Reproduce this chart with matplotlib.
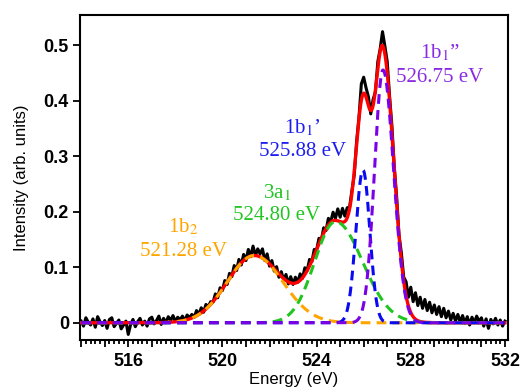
import numpy as np
import matplotlib
matplotlib.use("Agg")
import matplotlib.pyplot as plt
from matplotlib.ticker import MultipleLocator, FuncFormatter

energy = np.round(np.arange(514.0, 532.05, 0.1), 1)
intensity = [
    0.003, -0.006, 0.009, 0.001, -0.004, 0.007, -0.008, 0.011, 0.002, -0.005,
    0.004, -0.010, 0.006, 0.009, -0.007, -0.001, 0.005, -0.011, -0.004, 0.003,
    -0.021, -0.003, 0.006, -0.007, 0.002, 0.008, -0.004, 0.003, -0.006, 0.007,
    0.010, -0.002, 0.004, 0.012, -0.003, 0.008, 0.000, 0.011, 0.004, 0.013,
    0.002, 0.010, 0.005, 0.012, 0.004, 0.014, 0.009, 0.015, 0.010, 0.022,
    0.015, 0.027, 0.019, 0.033, 0.029, 0.038, 0.037, 0.052, 0.045, 0.063,
    0.058, 0.076, 0.069, 0.089, 0.083, 0.103, 0.094, 0.114, 0.104, 0.123,
    0.112, 0.132, 0.119, 0.138, 0.121, 0.133, 0.124, 0.133, 0.112, 0.124,
    0.102, 0.112, 0.093, 0.101, 0.082, 0.092, 0.077, 0.087, 0.070, 0.083,
    0.069, 0.082, 0.073, 0.088, 0.080, 0.099, 0.094, 0.114, 0.110, 0.132,
    0.131, 0.152, 0.148, 0.171, 0.166, 0.188, 0.182, 0.199, 0.188, 0.205,
    0.190, 0.206, 0.192, 0.207, 0.208, 0.238, 0.266, 0.327, 0.370, 0.430,
    0.442, 0.423, 0.407, 0.376, 0.402, 0.416, 0.470, 0.493, 0.524, 0.498,
    0.470, 0.408, 0.354, 0.280, 0.227, 0.158, 0.126, 0.082, 0.074, 0.046,
    0.064, 0.038, 0.054, 0.031, 0.046, 0.026, 0.042, 0.022, 0.037, 0.018,
    0.032, 0.015, 0.029, 0.011, 0.026, 0.009, 0.021, 0.005, 0.017, 0.003,
    0.015, 0.001, 0.013, -0.001, 0.011, -0.004, 0.010, 0.000, 0.012, 0.002,
    0.009, -0.006, 0.007, -0.010, 0.006, -0.002, 0.008, -0.004, 0.005, -0.006,
    0.003,
]

# ---- fitted peaks (centre, height, left / right widths)
peak_names = ["1b$_2$", "3a$_1$", "1b$_1$\u2019", "1b$_1$\u201d"]
peak_energies = ["521.28 eV", "524.80 eV", "525.88 eV", "526.75 eV"]
centers = [521.35, 524.80, 525.97, 526.82]
heights = [0.121, 0.182, 0.275, 0.455]
sig_left = [1.15, 0.88, 0.30, 0.36]
sig_right = [1.22, 1.15, 0.29, 0.45]
colors = ["#FFA500", "#22C422", "#0A0AF0", "#7A00E6"]
text_colors = ["#FFA500", "#22C422", "#1E1EF0", "#8A2BE2"]

ytick_vals = [0, 0.1, 0.2, 0.3, 0.4, 0.5]
ytick_labels = ["0", "0.1", "0.2", "0.3", "0.4", "0.5"]

plt.rcParams["lines.scale_dashes"] = False
plt.rcParams["mathtext.fontset"] = "stix"

xf = np.linspace(514.0, 532.0, 1801)
comps = []
for c, h, sl, sr in zip(centers, heights, sig_left, sig_right):
    s = np.where(xf < c, sl, sr)
    comps.append(h * np.exp(-(xf - c) ** 2 / (2 * s ** 2)))
total = np.sum(comps, axis=0)

fig = plt.figure(figsize=(5.29, 3.91), dpi=100)
ax = fig.add_axes([80 / 529, 1 - 340 / 391, 428 / 529, 325 / 391])

ax.plot(energy, intensity, color="black", lw=2.2, zorder=2)
ax.plot(xf, total, color="red", lw=2.4, zorder=3)
for comp, col in zip(comps, colors):
    ax.plot(xf, comp, color=col, lw=2.2, dashes=(7, 4.5), zorder=4)

ax.set_xlim(513.95, 532.13)
ax.set_ylim(-0.031, 0.554)

ax.xaxis.set_major_locator(MultipleLocator(1))
ax.xaxis.set_minor_locator(MultipleLocator(0.2))
ax.xaxis.set_major_formatter(FuncFormatter(
    lambda v, p: "%d" % round(v) if round(v) % 4 == 0 else ""))
ax.set_yticks(ytick_vals)
ax.set_yticklabels(ytick_labels)

for sp in ax.spines.values():
    sp.set_linewidth(1.5)
ax.tick_params(axis="both", which="both", direction="out", width=1.3, top=False, right=False)
ax.tick_params(axis="x", which="major", length=5, pad=4)
ax.tick_params(axis="x", which="minor", length=3)
ax.tick_params(axis="y", which="major", length=5, pad=3)
for lab in ax.get_xticklabels() + ax.get_yticklabels():
    lab.set_fontfamily("Liberation Sans")
    lab.set_fontweight("bold")
    lab.set_fontsize(13)

ax.set_xlabel("Energy (eV)", fontsize=12, family="Liberation Sans")
ax.set_ylabel("Intensity (arb. units)", fontsize=12, family="Liberation Sans")
ax.xaxis.set_label_coords(0.5, -0.097)
ax.yaxis.set_label_coords(-0.118, 0.5)

# label positions (x in eV, y of the two lines)
lab_x = [518.33, 522.32, 523.40, 529.24]
lab_y1 = [0.173, 0.234, 0.351, 0.486]
lab_y2 = [0.129, 0.194, 0.309, 0.442]
for name, en, col, x, y1, y2 in zip(peak_names, peak_energies, text_colors, lab_x, lab_y1, lab_y2):
    ax.text(x, y1, name, color=col, fontsize=15, family="Liberation Serif",
            ha="center", va="center")
    ax.text(x, y2, en, color=col, fontsize=15, family="Liberation Serif",
            ha="center", va="center")

fig.savefig("out.png", dpi=100)
